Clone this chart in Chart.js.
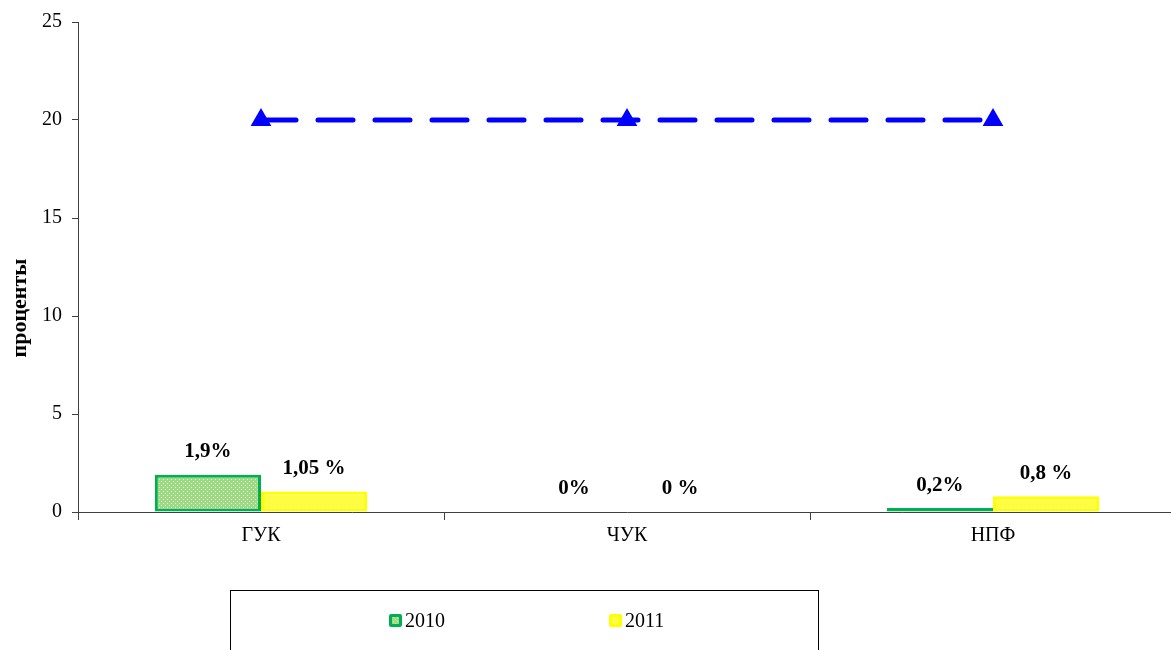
<!DOCTYPE html>
<html>
<head>
<meta charset="utf-8">
<script src="https://cdn.jsdelivr.net/npm/chart.js@4.4.1/dist/chart.umd.min.js"></script>
<style>
	html, body { margin: 0; padding: 0; background: #fff; overflow: hidden; }
	#wrap { width: 1188px; height: 650px; }
</style>
</head>
<body>
<div id="wrap"><canvas id="fundsChart" width="1188" height="650"></canvas></div>
<script>
const categories = ['ГУК', 'ЧУК', 'НПФ'];
const values2010 = [1.9, 0, 0.2];
const values2011 = [1.05, 0, 0.8];
const limitValues = [20, 20, 20];
const labels2010 = ['1,9%', '0%', '0,2%'];
const labels2011 = ['1,05 %', '0 %', '0,8 %'];
const yTicks = [0, 5, 10, 15, 20, 25];
const yTitle = 'проценты';

const SERIF = '"Liberation Serif", "Times New Roman", serif';

// dotted fill like the office "small grid" pattern
function makePattern(base, dot)
{
	const c = document.createElement('canvas');
	c.width = 4;
	c.height = 4;
	const g = c.getContext('2d');
	g.fillStyle = base;
	g.fillRect(0, 0, 4, 4);
	g.fillStyle = dot;
	g.fillRect(1, 1, 1, 1);
	g.fillRect(3, 3, 1, 1);
	return g.createPattern(c, 'repeat');
}

const greenFill = makePattern('#9fd985', '#d8f2cc');
const yellowFill = makePattern('#ffff33', '#ffffb0');

// value labels above the bars
const barLabels = {
	id: 'barLabels',
	afterDatasetsDraw(chart)
	{
		const ctx = chart.ctx;
		const sets = [labels2010, labels2011];
		ctx.save();
		ctx.font = 'bold 21px ' + SERIF;
		ctx.fillStyle = '#000';
		ctx.textAlign = 'center';
		ctx.textBaseline = 'middle';
		for (let d = 0; d < 2; d++) {
			const meta = chart.getDatasetMeta(d);
			meta.data.forEach((bar, i) => {
				ctx.fillText(sets[d][i], bar.x, bar.y - 23);
			});
		}
		ctx.restore();
	}
};

// axis title sits lower than the axis middle in the original
const axisTitle = {
	id: 'axisTitle',
	afterDraw(chart)
	{
		const ctx = chart.ctx;
		ctx.save();
		ctx.translate(20, 308);
		ctx.rotate(-Math.PI / 2);
		ctx.font = 'bold 22px ' + SERIF;
		ctx.fillStyle = '#000';
		ctx.textAlign = 'center';
		ctx.textBaseline = 'middle';
		ctx.fillText(yTitle, 0, 0);
		ctx.restore();
	}
};

// boxed legend under the axis, like the original
const boxLegend = {
	id: 'boxLegend',
	afterDraw(chart)
	{
		const ctx = chart.ctx;
		ctx.save();
		ctx.strokeStyle = '#000';
		ctx.lineWidth = 1;
		ctx.strokeRect(230.5, 590.5, 588, 80);
		ctx.font = '20px ' + SERIF;
		ctx.textBaseline = 'middle';
		ctx.textAlign = 'left';
		const items = [
			{ x: 389, ds: chart.data.datasets[0] },
			{ x: 609, ds: chart.data.datasets[1] }
		];
		items.forEach(it => {
			ctx.fillStyle = it.ds.borderColor;
			ctx.beginPath();
			ctx.roundRect(it.x, 614, 13, 13, 2);
			ctx.fill();
			ctx.fillStyle = it.ds.backgroundColor;
			ctx.fillRect(it.x + 3, 617, 7, 7);
			ctx.fillStyle = '#000';
			ctx.fillText(it.ds.label, it.x + 16, 622);
		});
		ctx.restore();
	}
};

const ctx = document.getElementById('fundsChart').getContext('2d');
new Chart(ctx, {
	type: 'bar',
	data: {
		labels: categories,
		datasets: [
			{
				label: '2010',
				data: values2010,
				backgroundColor: greenFill,
				borderColor: '#00b050',
				borderWidth: 3,
				borderSkipped: false,
				barPercentage: 1,
				categoryPercentage: 0.58,
				order: 2
			},
			{
				label: '2011',
				data: values2011,
				backgroundColor: yellowFill,
				borderColor: '#ffff00',
				borderWidth: 3,
				borderSkipped: false,
				barPercentage: 1,
				categoryPercentage: 0.58,
				order: 2
			},
			{
				type: 'line',
				label: 'limit',
				data: limitValues,
				borderColor: '#0000ff',
				backgroundColor: '#0000ff',
				borderWidth: 5,
				borderDash: [35, 22],
				borderCapStyle: 'round',
				pointStyle: 'triangle',
				pointRadius: 12,
				pointBorderWidth: 0,
				fill: false,
				order: 1
			}
		]
	},
	options: {
		responsive: false,
		animation: false,
		layout: {
			padding: { top: 10, left: 0, right: 0, bottom: 0 }
		},
		scales: {
			x: {
				grid: {
					offset: true,
					drawOnChartArea: false,
					tickLength: 8,
					color: '#404040'
				},
				border: { color: '#404040', width: 1 },
				ticks: {
					color: '#000',
					padding: 4,
					font: { family: SERIF, size: 20 }
				},
				afterFit(scale) { scale.height = 138; }
			},
			y: {
				min: 0,
				max: 25,
				afterBuildTicks(scale) {
					scale.ticks = yTicks.map(v => ({ value: v }));
				},
				grid: {
					drawOnChartArea: false,
					tickLength: 6,
					color: '#404040'
				},
				border: { color: '#404040', width: 1 },
				ticks: {
					color: '#000',
					padding: 10,
					font: { family: SERIF, size: 20 }
				},
				afterFit(scale) { scale.width = 78; }
			}
		},
		plugins: {
			legend: { display: false },
			tooltip: { enabled: false }
		}
	},
	plugins: [barLabels, axisTitle, boxLegend]
});
</script>
</body>
</html>
